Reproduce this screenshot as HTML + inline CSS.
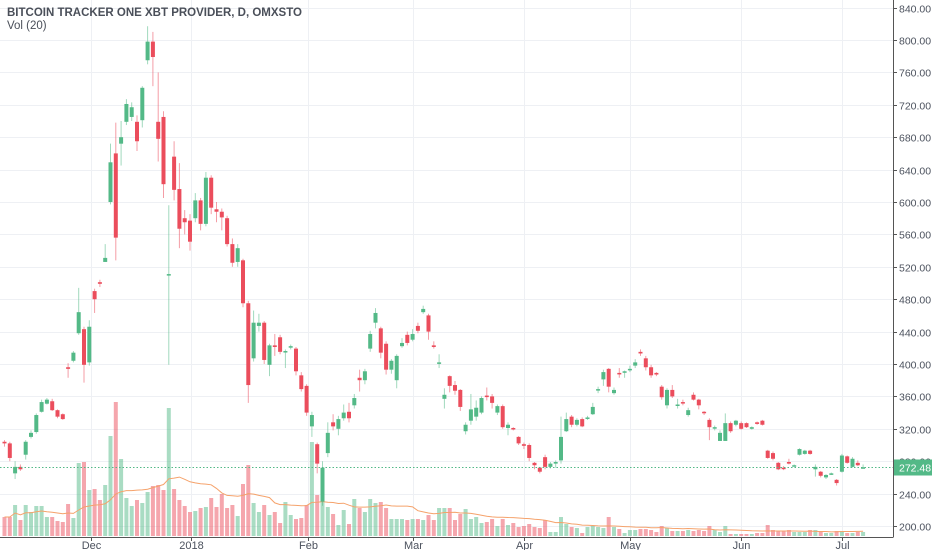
<!DOCTYPE html>
<html><head><meta charset="utf-8"><style>
html,body{margin:0;padding:0;background:#fff;}
svg{display:block;font-family:"Liberation Sans",sans-serif;}
</style></head><body>
<svg id="chart" width="932" height="550" viewBox="0 0 932 550" xmlns="http://www.w3.org/2000/svg">
<g id="grid"></g>
<g id="vols"></g>
<path id="ma" fill="none" stroke="#f5a26b" stroke-width="1"/>
<g id="candles"></g>
<line x1="0" x2="893" y1="467.5" y2="467.5" stroke="#53b987" stroke-width="1" stroke-dasharray="1.5,2" id="lastline"/>
<g id="axes"></g>
<text x="7" y="16" font-size="11.5" font-weight="bold" fill="#4a4f59">BITCOIN TRACKER ONE XBT PROVIDER, D, OMXSTO</text>
<text x="7" y="29" font-size="11.5" fill="#4a4f59">Vol (20)</text>
</svg>
<script>
const opens=[304,302,265,273,288,310,316,341,351,354,343,338,396,404,438,443,402,490,501,526,600,660,672,699,705,699,701,775,798,699,705,510,656,616,580,577,580,602,573,630,591,588,580,548,526,528,475,407,447,451,399,423,433,415,421,419,386,373,323,301,230,290,328,320,333,341,349,383,380,419,451,444,425,393,380,422,436,430,447,464,460,423,401,357,385,374,368,317,330,335,340,361,360,340,348,321,321,310,301,300,278,272,285,273,277,281,317,335,325,332,333,338,368,381,394,364,389,390,393,398,415,407,396,389,372,349,368,349,353,337,362,356,341,331,321,305,305,327,325,327,327,320,328,330,293,290,278,272,279,274,288,289,293,270,267,260,264,257,267,286,273,278,272];
const highs=[306,304,280,276,306,318,339,356,358,357,344,339,401,416,494,446,454,493,504,548,672,698,700,727,723,707,743,817,810,760,712,596,675,648,590,585,611,605,637,633,600,592,583,555,548,530,478,466,462,453,425,437,436,418,424,421,390,375,341,303,280,328,338,336,350,352,363,393,394,441,469,446,428,406,412,432,440,443,451,472,462,428,412,370,386,379,369,328,363,355,360,371,363,350,350,328,322,311,303,302,279,273,288,279,281,335,340,337,333,334,336,352,372,393,395,371,395,392,398,406,418,410,399,390,374,370,374,357,356,346,365,357,342,333,324,318,339,329,331,329,328,323,329,331,294,292,279,274,283,276,296,294,294,276,268,264,266,258,289,287,285,281,276];
const lows=[298,280,258,268,282,308,314,340,350,342,333,331,383,402,436,377,398,463,495,526,597,528,645,695,700,663,692,770,743,650,605,399,602,543,560,540,575,565,570,585,575,565,545,520,520,470,352,403,440,400,385,410,412,395,418,386,366,336,310,265,225,285,318,312,330,328,345,366,375,415,444,407,387,388,370,420,423,428,438,462,430,419,395,345,365,362,342,313,325,330,338,355,345,337,320,312,318,300,295,280,270,265,270,271,272,277,316,322,323,322,331,337,364,373,365,362,383,383,390,395,410,392,383,385,356,345,358,345,349,335,355,344,337,306,318,305,305,315,323,319,321,319,325,324,283,281,269,269,276,274,287,288,288,261,260,258,263,250,266,277,272,274,271];
const closes=[302,284,273,270,304,315,337,353,356,343,335,332,394,414,464,399,446,480,499,531,649,556,680,721,717,675,741,798,779,678,622,511,615,567,575,551,602,573,630,593,588,581,548,525,543,475,374,451,451,405,423,421,415,416,422,391,369,340,337,277,272,315,323,332,340,333,358,380,391,437,463,414,393,404,410,426,426,437,441,468,440,421,402,362,373,367,347,325,344,346,358,360,352,348,322,325,320,302,299,284,275,267,273,277,279,310,332,325,331,323,334,347,369,390,372,368,388,391,394,402,413,396,386,387,359,368,360,350,352,343,356,349,340,322,322,315,327,317,330,320,322,322,326,325,284,283,270,271,277,275,295,293,289,273,262,263,265,253,287,278,283,275,272.48];
const volumes=[190,190,310,160,310,240,300,300,190,190,150,140,320,180,730,740,460,470,360,510,1000,1340,770,380,300,360,330,440,500,510,460,1280,470,360,300,240,250,280,290,380,290,420,280,310,200,520,710,330,240,310,210,240,130,340,210,170,180,310,940,410,430,290,220,110,260,120,370,280,240,370,330,340,280,170,170,170,160,170,170,160,210,160,280,280,280,160,220,270,170,190,130,140,170,100,170,110,130,90,100,120,90,80,160,40,40,190,120,90,80,30,90,100,90,80,190,90,70,30,60,60,70,70,60,40,100,80,50,50,50,60,50,60,50,100,60,40,100,20,20,20,20,20,30,30,110,60,50,50,60,40,40,40,60,60,40,30,30,50,50,30,30,40,40];
const priceTicks=[200,240,280,320,360,400,440,480,520,560,600,640,680,720,760,800,840];
const monthLabels=["Dec","2018","Feb","Mar","Apr","May","Jun","Jul"];
const monthSlots=[16.3,35.2,57.3,77,98,118.1,139,158];
const lastPrice=272.48;

const NS="http://www.w3.org/2000/svg";
const xs=i=>4.5+5.3*i;
const yP=p=>526-(p-200)*0.81;
const yV=v=>536-v*0.1;
const GREEN="#53b987",RED="#eb4d5c";
function mk(tag,attrs,parent){const e=document.createElementNS(NS,tag);for(const k in attrs)e.setAttribute(k,attrs[k]);parent.appendChild(e);return e;}
const grid=document.getElementById('grid'),axes=document.getElementById('axes');
priceTicks.forEach(p=>{
  const y=Math.round(yP(p))+0.5;
  const gl=mk('line',{x1:0,x2:893,y1:y,y2:y,stroke:'#eef0f4','stroke-width':1},grid);
  
  
  const tk=mk('line',{x1:893,x2:897,y1:y,y2:y,stroke:'#555','stroke-width':1},axes);
  
  
  const t=mk('text',{x:899,y:y+4,'font-size':10.5,fill:'#4c525e'},axes);
  t.textContent=p.toFixed(2);
  
  
});
monthLabels.forEach((m,i)=>{
  const x=Math.round(xs(monthSlots[i]))+0.5;
  const gl=mk('line',{x1:x,x2:x,y1:0,y2:537,stroke:'#eef0f4','stroke-width':1},grid);
  
  
  const tk=mk('line',{x1:x,x2:x,y1:537,y2:541,stroke:'#555','stroke-width':1},axes);
  
  
  const t=mk('text',{x:x,y:549,'font-size':11,fill:'#4c525e','text-anchor':'middle'},axes);
  t.textContent=m;
  
  
});
const al=mk('line',{x1:893.5,x2:893.5,y1:0,y2:537,stroke:'#555','stroke-width':1},axes);


const bl=mk('line',{x1:0,x2:893.5,y1:537.5,y2:537.5,stroke:'#555','stroke-width':1},axes);


const ly=Math.round(yP(lastPrice))+0.5;
document.getElementById('lastline').setAttribute('y1',ly);
document.getElementById('lastline').setAttribute('y2',ly);
const lb=mk('rect',{x:894,y:ly-8,width:38,height:16,fill:GREEN},axes);


const lt=mk('text',{x:899,y:ly+4,'font-size':10.5,fill:'#fff'},axes);
lt.textContent=lastPrice.toFixed(2);



const vg=document.getElementById('vols');
volumes.forEach((v,i)=>{
  const up=closes[i]>=opens[i];
  const r=mk('rect',{x:xs(i)-2,y:yV(v),width:4,height:536-yV(v),fill:up?GREEN:RED,'fill-opacity':0.5},vg);
  
  
});
let d='';
volumes.forEach((v,i)=>{
  const s=Math.max(0,i-19);let sum=0;for(let j=s;j<=i;j++)sum+=volumes[j];
  const a=sum/(i-s+1);
  d+=(i?'L':'M')+xs(i).toFixed(1)+','+yV(a).toFixed(1);
});
document.getElementById('ma').setAttribute('d',d);

const cg=document.getElementById('candles');
opens.forEach((o,i)=>{
  const c=closes[i],up=c>=o,col=up?GREEN:RED;
  const x=xs(i);
  const w=mk('line',{x1:x,x2:x,y1:yP(highs[i]),y2:yP(lows[i]),stroke:col,'stroke-opacity':0.55,'stroke-width':1},cg);
  
  
  const top=yP(Math.max(o,c)),bot=yP(Math.min(o,c));
  const b=mk('rect',{x:x-2,y:top,width:4,height:Math.max(1.5,bot-top),fill:col},cg);
  
  
});
</script>
</body></html>
